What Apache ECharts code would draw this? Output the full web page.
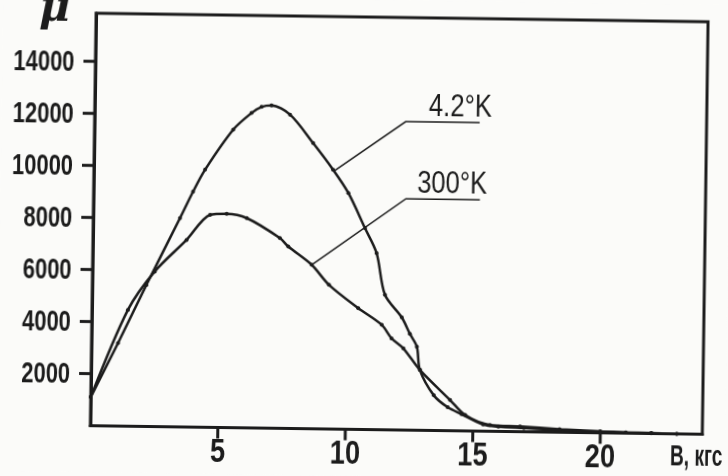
<!DOCTYPE html>
<html>
<head>
<meta charset="utf-8">
<script src="https://cdn.jsdelivr.net/npm/echarts@6/dist/echarts.min.js"></script>
<style>
html,body{margin:0;padding:0;background:#fbfbf9;overflow:hidden;}
#chart{width:728px;height:476px;transform:rotate(0.8deg);transform-origin:50% 50%;}
</style>
</head>
<body>
<div id="chart"></div>
<script>
// ---- data (B in kGs, mu) ----
const B_42K  = [0, 1.04, 2.12, 3.4, 3.9, 4.36, 5.44, 6.15, 6.54, 6.93, 7.66, 8.58, 9.38, 9.99, 10.66, 11.13, 11.48, 12.15, 12.48, 12.76, 12.89, 13.45, 14.0, 14.55, 15.4, 16.0, 17.0, 18.0, 19.0, 20.0, 21.0, 22.0, 23.0];
const MU_42K = [1100, 3190, 5440, 8020, 9050, 9900, 11450, 12100, 12340, 12400, 12060, 10980, 9965, 9080, 7740, 6785, 5185, 4330, 3700, 3210, 2320, 1350, 900, 640, 260, 180, 140, 100, 60, 40, 20, 10, 0];
const B_300K  = [0, 1.41, 2.44, 3.67, 4.58, 5.23, 6.02, 7.33, 7.66, 8.59, 9.28, 10.44, 11.37, 11.76, 12.23, 12.89, 14.09, 14.69, 15.67, 16.85, 18.4, 20.0, 21.0, 22.0, 23.0];
const MU_300K = [1100, 4470, 5960, 7190, 8165, 8215, 8060, 7310, 6990, 6300, 5540, 4660, 4030, 3520, 3140, 2320, 1180, 610, 240, 200, 120, 60, 30, 15, 0];
const Y_TICKS = [2000, 4000, 6000, 8000, 10000, 12000, 14000];
const X_TICKS = [5, 10, 15, 20];
const SERIES_NAMES = ['4.2°K', '300°K'];
const X_NAME = 'B, кгс';
const Y_NAME = 'μ';
// annotation anchors (data units): point on curve, elbow, end of underline
const LABEL_CURVE = [[9.45, 9940], [8.59, 6300]];
const LABEL_ELBOW = [[12.2, 11850], [12.25, 8890]];
const LABEL_END   = [[15.1, 11850], [15.15, 8890]];

const FONT = "'Liberation Sans', Arial, sans-serif";
const INK = '#1c1c1c';
const TICK_LEN = 12;

function pairs(xs, ys){ return xs.map((x,i)=>[x, ys[i]]); }

const chart = echarts.init(document.getElementById('chart'), null, {renderer:'canvas'});
const GRID_LEFT = 93, GRID_TOP = 17, GRID_W = 612, GRID_H = 412.5;
chart.setOption({
  backgroundColor: '#fbfbf9',
  animation: false,
  grid: {left: GRID_LEFT, top: GRID_TOP, width: GRID_W, height: GRID_H, outerBoundsMode: 'none', containLabel: false,
         show: true, borderColor: INK, borderWidth: 3, backgroundColor: 'transparent'},
  xAxis: {
    type: 'value', min: 0, max: 24, interval: 5,
    axisLine: {show: true, lineStyle: {color: INK, width: 3}},
    axisTick: {show: false},
    axisLabel: {show: false},
    splitLine: {show: false}
  },
  yAxis: {
    type: 'value', min: 0, max: 15850, interval: 2000,
    axisLine: {show: true, lineStyle: {color: INK, width: 3}},
    axisTick: {show: false},
    axisLabel: {show: false},
    splitLine: {show: false}
  },
  series: [
    {name: SERIES_NAMES[0], type: 'line', data: pairs(B_42K, MU_42K), smooth: 0.3,
     symbol: 'circle', symbolSize: 4, itemStyle: {color: INK}, lineStyle: {color: INK, width: 2.5}},
    {name: SERIES_NAMES[1], type: 'line', data: pairs(B_300K, MU_300K), smooth: 0.3,
     symbol: 'circle', symbolSize: 4, itemStyle: {color: INK}, lineStyle: {color: INK, width: 2.5}}
  ]
});

const g = [];
const axisBottom = GRID_TOP + GRID_H;
// ticks and tick labels (condensed lettering, as in the original drawing), placed via the axis scales
Y_TICKS.forEach(v => {
  const y = chart.convertToPixel({yAxisIndex: 0}, v);
  g.push({type: 'rect', z: 100, shape: {x: GRID_LEFT - TICK_LEN, y: y - 1.5, width: TICK_LEN, height: 3},
    style: {fill: INK}});
  g.push({type: 'text', x: GRID_LEFT - 21, y: y + 1.5, scaleX: 0.73,
    style: {text: String(v), font: "bold 30px " + FONT, fill: INK, align: 'right', verticalAlign: 'middle'}});
});
X_TICKS.forEach(v => {
  const x = chart.convertToPixel({xAxisIndex: 0}, v);
  g.push({type: 'rect', z: 100, shape: {x: x - 1.5, y: axisBottom, width: 3, height: TICK_LEN - 1},
    style: {fill: INK}});
  g.push({type: 'text', x: x, y: axisBottom + 25, scaleX: 0.8,
    style: {text: String(v), font: "bold 34px " + FONT, fill: INK, align: 'center', verticalAlign: 'middle'}});
});
// axis names
g.push({type: 'text', x: GRID_LEFT + GRID_W - 32, y: axisBottom + 23, scaleX: 0.66,
  style: {text: X_NAME, font: "bold 29px " + FONT, fill: INK, align: 'left', verticalAlign: 'middle'}});
g.push({type: 'text', x: 36, y: -7,
  style: {text: Y_NAME, font: "italic bold 42px 'DejaVu Serif', serif", fill: INK}});
// curve labels with leader lines
SERIES_NAMES.forEach((nm, i) => {
  const c = chart.convertToPixel({gridIndex: 0}, LABEL_CURVE[i]);
  const e = chart.convertToPixel({gridIndex: 0}, LABEL_ELBOW[i]);
  const d = chart.convertToPixel({gridIndex: 0}, LABEL_END[i]);
  g.push({type: 'polyline', shape: {points: [c, e, d]}, style: {stroke: INK, lineWidth: 1.5, fill: null}});
  g.push({type: 'text', x: e[0] + (i === 0 ? 23 : 11), y: e[1] - 15, scaleX: 0.8,
    style: {text: nm, font: "32px " + FONT, fill: INK, align: 'left', verticalAlign: 'middle'}});
});
chart.setOption({graphic: g});
</script>
</body>
</html>
